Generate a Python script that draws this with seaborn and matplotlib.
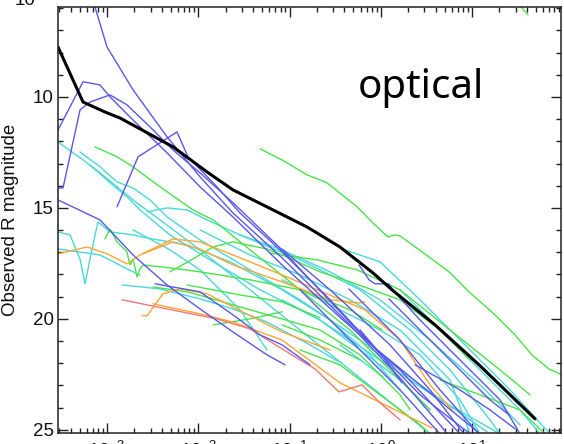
import numpy as np
import pandas as pd
import matplotlib
matplotlib.use("Agg")
import matplotlib.pyplot as plt
import seaborn as sns
from matplotlib.ticker import LogLocator, MultipleLocator, NullFormatter, FormatStrFormatter

# ---------------- data: (log10 t [days], observed R magnitude) ----------------
blue_curves = [
    [(-3.132, 5.95), (-3.0, 7.75), (-2.715, 9.68), (-2.342, 11.80), (-1.981, 13.60), (-1.619, 15.23),
     (-1.082, 17.25), (-0.337, 20.27), (0.211, 22.66), (0.649, 24.77), (0.781, 25.45)],
    [(-3.537, 11.49), (-3.263, 9.32), (-3.077, 9.46), (-2.967, 10.0), (-2.715, 11.04), (-2.342, 12.52),
     (-1.981, 14.05), (-1.619, 15.41), (-1.082, 17.57), (-0.414, 20.05), (0.211, 22.30), (0.868, 25.18)],
    [(-3.537, 14.10), (-3.482, 14.10), (-3.296, 10.59), (-3.186, 10.23), (-2.967, 9.91), (-2.781, 10.36),
     (-2.529, 11.35), (-2.277, 12.39), (-1.981, 13.42), (-1.619, 14.77), (-1.082, 16.89), (-0.26, 20.50),
     (0.43, 23.42), (0.978, 25.18)],
    [(-2.89, 14.95), (-2.66, 12.70), (-2.233, 11.58), (-2.112, 12.70), (-1.795, 14.05), (-1.542, 15.23),
     (-1.082, 16.98), (-0.556, 19.14), (-0.063, 21.31), (0.43, 22.97), (1.088, 25.18)],
    [(-3.537, 14.64), (-3.077, 15.54), (-2.715, 17.12), (-2.342, 18.47), (-1.981, 19.55), (-1.619, 20.59),
     (-1.247, 21.62), (-1.049, 22.07)],
    [(-2.474, 18.42), (-1.981, 18.78), (-1.619, 19.82), (-1.323, 20.72), (-1.082, 21.17), (-0.775, 22.07)],
    [(-1.082, 16.85), (-0.556, 18.69), (0.101, 21.17), (0.54, 23.20), (0.912, 25.18)],
    [(-0.35, 18.65), (0.211, 20.95), (0.649, 23.20), (1.077, 25.18)],
    [(0.09, 19.10), (0.43, 20.50), (0.868, 22.30), (1.197, 23.65), (1.405, 24.32)],
    [(-0.238, 17.57), (-0.129, 18.24), (-0.063, 18.42), (0.09, 18.42), (0.123, 18.65), (0.43, 20.05),
     (0.868, 21.85), (1.307, 23.65), (1.526, 25.18)],
    [(-0.885, 18.69), (-0.337, 20.95), (0.211, 23.20), (0.649, 25.18)],
    [(0.375, 22.07), (0.868, 23.20), (1.197, 24.10), (1.471, 24.95)],
    [(-0.227, 20.50), (0.025, 21.71), (0.233, 22.88)],
]

cyan_curves = [
    [(-3.537, 12.03), (-3.263, 12.84), (-3.077, 13.42), (-2.715, 14.64), (-2.419, 15.54), (-1.981, 16.89),
     (-1.433, 18.69), (-0.885, 20.50), (-0.337, 22.30), (0.211, 24.10), (0.54, 25.18)],
    [(-3.296, 12.48), (-3.077, 13.15), (-2.89, 13.83), (-2.715, 14.10), (-2.529, 14.64), (-2.342, 15.41),
     (-1.981, 16.44), (-1.433, 17.79), (-0.885, 19.14), (-0.227, 20.95), (0.43, 22.97), (1.197, 25.18)],
    [(-3.186, 13.06), (-2.967, 13.87), (-2.781, 14.50), (-2.638, 15.09), (-2.31, 16.22), (-1.871, 17.34),
     (-1.323, 18.69), (-0.666, 20.05), (-0.008, 21.85), (0.649, 23.65), (1.307, 25.18)],
    [(-2.562, 15.18), (-2.342, 15.0), (-2.123, 15.09), (-1.904, 15.54), (-1.542, 16.22), (-1.082, 16.89),
     (-0.556, 17.88), (-0.008, 19.14), (0.54, 20.95), (1.088, 22.97), (1.526, 24.77)],
    [(-3.537, 16.08), (-3.405, 16.22), (-3.296, 17.30), (-3.241, 18.42), (-3.164, 16.85), (-3.099, 15.63),
     (-2.967, 16.08), (-2.715, 16.22), (-2.496, 16.40), (-2.123, 16.67), (-1.652, 17.43), (-1.082, 18.69),
     (-0.556, 20.05), (-0.118, 21.62), (0.211, 23.20)],
    [(-3.537, 16.85), (-3.077, 17.12), (-2.715, 17.88), (-2.638, 18.02)],
    [(-2.836, 18.47), (-2.419, 18.65), (-1.981, 19.10), (-1.619, 19.55), (-1.247, 20.14), (-0.775, 21.17),
     (-0.458, 21.94)],
    [(-2.715, 15.99), (-2.31, 16.89), (-1.981, 17.79), (-1.542, 19.59), (-1.247, 21.40)],
    [(0.211, 18.69), (0.649, 20.50), (1.088, 22.30), (1.526, 24.10), (1.745, 25.18)],
    [(-0.425, 16.85), (-0.008, 17.43), (0.43, 19.14), (0.978, 21.40), (1.416, 23.20), (1.855, 25.18)],
    [(-1.542, 16.22), (-0.885, 17.34), (-0.227, 18.69), (0.321, 20.50), (0.759, 22.30), (1.197, 24.55),
     (1.307, 25.18)],
    [(-1.082, 19.14), (-0.666, 20.05), (-0.227, 21.40), (0.211, 22.75), (0.54, 24.10)],
    [(-0.447, 21.17), (0.025, 22.61)],
    [(-1.082, 18.24), (-0.556, 19.37), (-0.008, 20.50), (0.43, 21.62), (0.868, 23.65), (1.088, 25.18)],
    [(-1.981, 15.99), (-1.433, 17.12), (-0.885, 18.02), (-0.337, 19.14), (0.211, 20.50), (0.759, 22.75),
     (0.978, 25.18)],
]

green_curves = [
    [(-1.323, 12.34), (-1.082, 12.84), (-0.808, 13.51), (-0.589, 13.87), (-0.26, 14.95), (-0.085, 15.68),
     (0.079, 16.31), (0.15, 16.22), (0.211, 16.26), (0.452, 16.98), (0.748, 17.88), (0.967, 18.78),
     (1.252, 19.82), (1.471, 20.72), (1.658, 21.63), (1.844, 22.26), (1.975, 22.5)],
    [(-3.132, 12.25), (-2.89, 12.70), (-2.715, 13.15), (-2.419, 14.05), (-2.058, 15.09), (-1.838, 15.54),
     (-1.433, 16.89), (-0.885, 18.69), (-0.337, 20.50), (0.211, 22.75), (0.54, 24.10)],
    [(-3.022, 16.40), (-2.967, 15.95), (-2.89, 16.53), (-2.781, 16.98), (-2.748, 17.57), (-2.715, 17.30),
     (-2.671, 18.11), (-2.638, 17.75), (-2.605, 17.57), (-2.31, 17.70), (-1.981, 17.88), (-1.433, 18.24),
     (-0.885, 18.69), (-0.337, 19.59), (0.014, 20.50)],
    [(-2.31, 17.88), (-2.058, 17.30), (-1.838, 16.76), (-1.619, 16.53), (-1.247, 16.85), (-1.082, 17.12),
     (-0.666, 17.88), (-0.337, 18.33), (0.211, 19.14), (0.649, 20.50), (0.978, 21.85)],
    [(-2.496, 18.56), (-2.123, 18.78), (-1.838, 19.10), (-1.619, 19.37), (-1.082, 20.0), (-0.666, 20.50),
     (-0.227, 21.62), (0.211, 23.42), (0.321, 24.10)],
    [(-1.838, 20.27), (-1.433, 20.0), (-1.082, 19.68)],
    [(-2.123, 18.47), (-1.542, 18.92), (-1.082, 19.23), (-0.666, 19.95)],
    [(-1.214, 17.03), (-0.699, 17.34), (-0.26, 17.79), (0.211, 18.69), (0.759, 20.50), (1.307, 22.30),
     (1.636, 23.42)],
    [(-0.885, 21.40), (-0.447, 22.07), (-0.008, 23.42), (0.43, 24.77), (0.54, 25.18)],
    [(-1.082, 20.27), (-0.666, 20.95), (-0.227, 21.85)],
    [(0.649, 22.75), (1.088, 23.42), (1.526, 24.10), (1.80, 25.18)],
    [(1.471, 5.63), (1.614, 6.31)],
]

orange_curves = [
    [(-3.537, 17.07), (-3.219, 16.76), (-3.0, 17.07), (-2.781, 17.52), (-2.638, 17.12), (-2.342, 16.53),
     (-2.277, 16.40), (-1.981, 16.53), (-1.619, 17.12), (-1.082, 18.02), (-0.644, 18.78), (-0.173, 19.59),
     (0.211, 20.95), (0.54, 22.97), (0.781, 24.10)],
    [(-2.605, 17.07), (-2.277, 16.53), (-1.981, 16.85), (-1.619, 17.57), (-1.082, 18.33), (-0.556, 19.14),
     (-0.227, 19.28), (-0.173, 19.23)],
    [(-2.616, 19.86), (-2.562, 19.86), (-2.386, 18.87), (-2.20, 18.65), (-1.904, 18.87), (-1.619, 19.46),
     (-1.082, 20.59), (-0.556, 21.40)],
    [(-2.496, 19.32), (-1.981, 19.77), (-1.619, 20.14), (-1.082, 20.95), (-0.447, 22.88), (0.562, 24.91)],
]

red_curves = [
    [(-2.836, 19.14), (-2.342, 19.55), (-1.795, 20.0), (-1.433, 20.45), (-1.082, 21.35), (-0.721, 22.25),
     (-0.458, 23.29), (-0.205, 22.97), (-0.019, 23.74), (0.211, 24.55)],
]

black_curve = [(-3.537, 7.75), (-3.263, 10.23), (-3.022, 10.68), (-2.858, 10.95), (-2.638, 11.44),
               (-2.277, 12.25), (-1.904, 13.38), (-1.619, 14.19), (-1.181, 15.09), (-0.808, 15.86),
               (-0.447, 16.76), (-0.085, 17.93), (0.123, 18.69), (0.595, 20.27), (1.077, 22.07),
               (1.69, 24.50)]

y_ticks = [10, 15, 20, 25]
ylabel = "Observed R magnitude"
panel_label = "optical"

group_colors = {
    "blue": "#5858ec",
    "cyan": "#48d8dc",
    "green": "#48e448",
    "orange": "#ffa530",
    "red": "#f27676",
}

# ---------------- build long-form table ----------------
rows = []
for gname, curves in [("cyan", cyan_curves), ("green", green_curves), ("orange", orange_curves),
                      ("red", red_curves), ("blue", blue_curves)]:
    for i, c in enumerate(curves):
        for k, (lt, m) in enumerate(c):
            rows.append({"curve": f"{gname}_{i}", "group": gname, "order": k,
                         "t": 10.0 ** lt, "mag": m})
df = pd.DataFrame(rows)
palette = {cid: group_colors[g] for cid, g in df[["curve", "group"]].drop_duplicates().values}

bdf = pd.DataFrame({"t": [10.0 ** p[0] for p in black_curve], "mag": [p[1] for p in black_curve]})

# ---------------- plot ----------------
sns.set_theme(style="ticks")
plt.rcParams["font.family"] = ["Liberation Sans", "DejaVu Sans"]
plt.rcParams["mathtext.fontset"] = "custom"
plt.rcParams["mathtext.rm"] = "Liberation Sans"
plt.rcParams["mathtext.it"] = "Liberation Sans:italic"
plt.rcParams["lines.solid_joinstyle"] = "round"

fig = plt.figure(figsize=(5.64, 4.44), dpi=100)
ax = fig.add_axes([58 / 564, 11 / 444, 503 / 564, 426 / 444])

sns.lineplot(data=df, x="t", y="mag", hue="curve", palette=palette, units="curve",
             estimator=None, sort=False, legend=False, linewidth=1.0, ax=ax)
sns.lineplot(data=bdf, x="t", y="mag", color="black", sort=False, estimator=None,
             linewidth=2.2, ax=ax)

ax.set_xscale("log")
ax.set_xlim(10 ** -3.537, 10 ** 1.975)
ax.set_ylim(25.14, 5.95)

ax.xaxis.set_major_locator(LogLocator(base=10, numticks=20))
ax.xaxis.set_minor_locator(LogLocator(base=10, subs=np.arange(2, 10), numticks=20))
ax.xaxis.set_minor_formatter(NullFormatter())
ax.yaxis.set_major_locator(MultipleLocator(5))
ax.yaxis.set_minor_locator(MultipleLocator(1))
ax.yaxis.set_major_formatter(FormatStrFormatter("%d"))
ax.set_yticks(y_ticks)

ax.tick_params(which="both", direction="in", top=True, right=True, color="#222222",
               labelsize=13.5, labelcolor="#111111")
ax.tick_params(which="major", length=7, width=1.0, pad=3)
ax.tick_params(which="minor", length=3.5, width=1.0)
ax.tick_params(axis="x", which="major", pad=6)

for s in ax.spines.values():
    s.set_linewidth(1.1)
    s.set_color("#222222")

ax.set_xlabel("")
ax.set_ylabel(ylabel, fontsize=13.5, color="#111111")
ax.yaxis.set_label_coords(-0.0775, 0.5)

ax.text(0.596, 0.786, panel_label, transform=ax.transAxes, fontsize=29,
        family=["Noto Sans", "DejaVu Sans"], ha="left", va="baseline", color="black")

fig.text(25 / 564, 1 - 5 / 444, "10", ha="center", va="baseline", fontsize=13.5, color="#111111")

fig.savefig("out.png", dpi=100)
